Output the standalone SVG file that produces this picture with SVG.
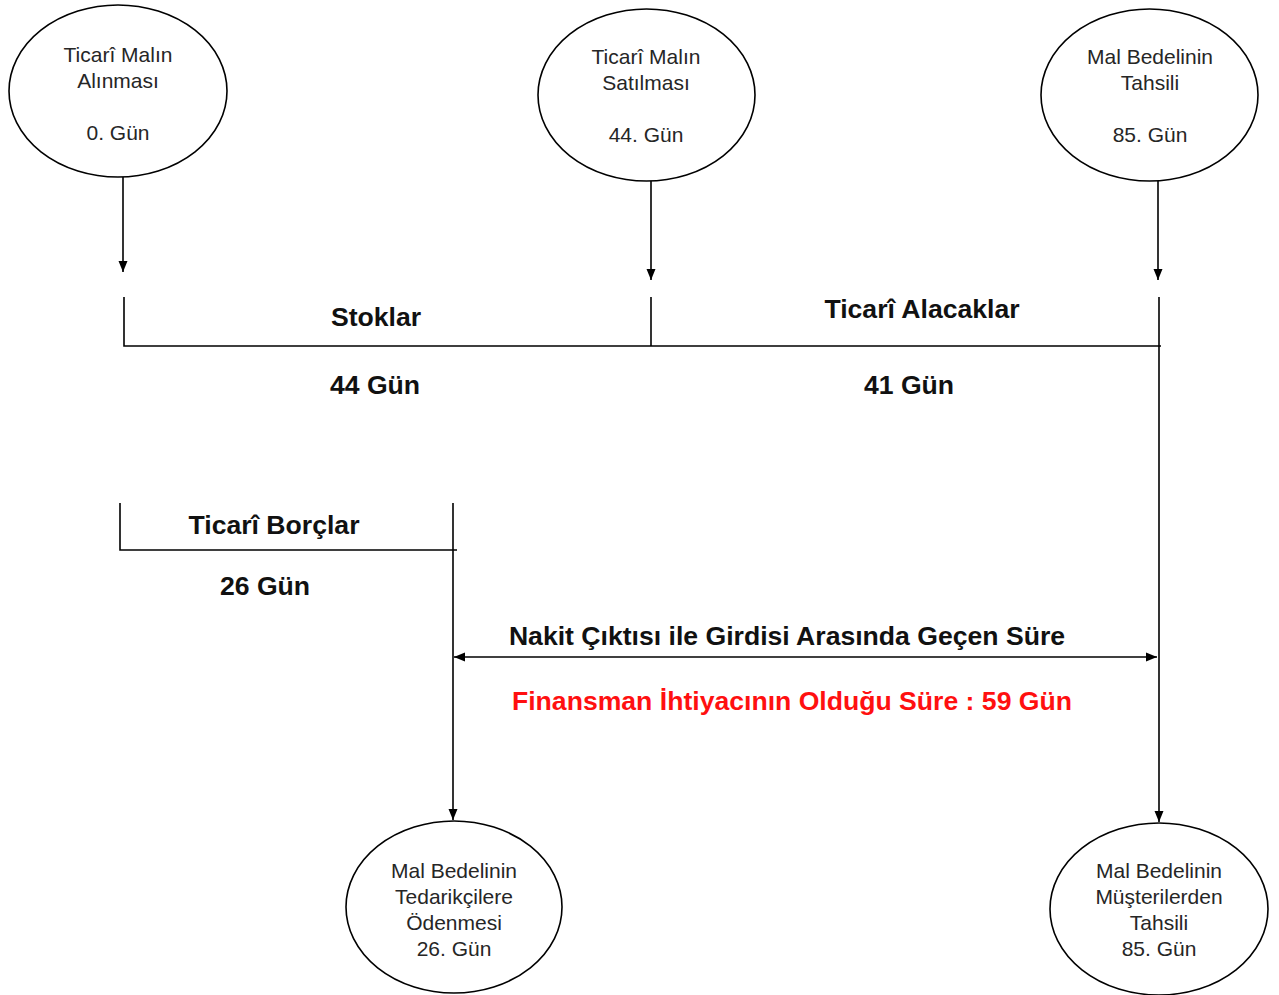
<svg xmlns="http://www.w3.org/2000/svg" width="1279" height="995" viewBox="0 0 1279 995">
<style>
.node ellipse{fill:#fff;stroke:#000;stroke-width:1.6}
.nt{font-family:"Liberation Sans",Arial,sans-serif;font-size:21px;fill:#262626;text-anchor:middle}
.lbl{font-family:"Liberation Sans",Arial,sans-serif;font-size:26.6px;font-weight:bold;fill:#111;text-anchor:middle}
.red{fill:#ff1010}
.ln{stroke:#000;stroke-width:1.6;fill:none}
</style>
<defs>
<marker id="ah" markerUnits="userSpaceOnUse" markerWidth="12" markerHeight="12" viewBox="0 0 12 12" refX="11" refY="6" orient="auto-start-reverse">
<path d="M0,1.5 L11,6 L0,10.5 Z" fill="#000"/>
</marker>
</defs>
<rect width="1279" height="995" fill="#fff"/>
<g id="connectors">
<line class="ln" x1="123" y1="177" x2="123" y2="272" marker-end="url(#ah)"/>
<line class="ln" x1="651" y1="181" x2="651" y2="280" marker-end="url(#ah)"/>
<line class="ln" x1="1158" y1="181" x2="1158" y2="280" marker-end="url(#ah)"/>
<polyline class="ln" points="124,297 124,346 1161,346"/>
<line class="ln" x1="651" y1="297" x2="651" y2="346"/>
<line class="ln" x1="1159" y1="297" x2="1159" y2="822" marker-end="url(#ah)"/>
<polyline class="ln" points="120,503 120,550 457,550"/>
<line class="ln" x1="453" y1="503" x2="453" y2="820" marker-end="url(#ah)"/>
<line class="ln" x1="454" y1="657" x2="1157" y2="657" marker-start="url(#ah)" marker-end="url(#ah)"/>
</g>
<g id="labels">
<text class="lbl" x="376" y="326">Stoklar</text>
<text class="lbl" x="375" y="394">44 Gün</text>
<text class="lbl" x="922" y="318">Ticarî Alacaklar</text>
<text class="lbl" x="909" y="394">41 Gün</text>
<text class="lbl" x="274" y="534">Ticarî Borçlar</text>
<text class="lbl" x="265" y="595">26 Gün</text>
<text class="lbl" x="787" y="645">Nakit Çıktısı ile Girdisi Arasında Geçen Süre</text>
<text class="lbl red" x="792" y="710">Finansman İhtiyacının Olduğu Süre : 59 Gün</text>
</g>
<g id="n1" class="node">
<ellipse cx="118" cy="91" rx="109" ry="86"/>
<text class="nt" x="118" y="62">Ticarî Malın</text>
<text class="nt" x="118" y="88">Alınması</text>
<text class="nt" x="118" y="140">0. Gün</text>
</g>
<g id="n2" class="node">
<ellipse cx="646.5" cy="95" rx="108.5" ry="86"/>
<text class="nt" x="646" y="64">Ticarî Malın</text>
<text class="nt" x="646" y="90">Satılması</text>
<text class="nt" x="646" y="142">44. Gün</text>
</g>
<g id="n3" class="node">
<ellipse cx="1149.5" cy="95" rx="108.5" ry="86"/>
<text class="nt" x="1150" y="64">Mal Bedelinin</text>
<text class="nt" x="1150" y="90">Tahsili</text>
<text class="nt" x="1150" y="142">85. Gün</text>
</g>
<g id="n4" class="node">
<ellipse cx="454" cy="907" rx="108" ry="86"/>
<text class="nt" x="454" y="878">Mal Bedelinin</text>
<text class="nt" x="454" y="904">Tedarikçilere</text>
<text class="nt" x="454" y="930">Ödenmesi</text>
<text class="nt" x="454" y="956">26. Gün</text>
</g>
<g id="n5" class="node">
<ellipse cx="1159" cy="909" rx="109" ry="86"/>
<text class="nt" x="1159" y="878">Mal Bedelinin</text>
<text class="nt" x="1159" y="904">Müşterilerden</text>
<text class="nt" x="1159" y="930">Tahsili</text>
<text class="nt" x="1159" y="956">85. Gün</text>
</g>
</svg>
